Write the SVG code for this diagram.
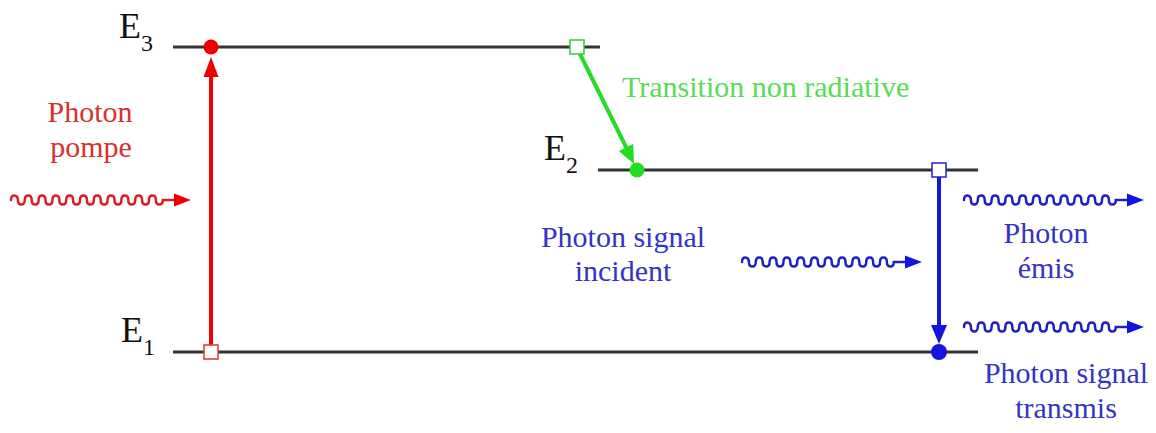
<svg xmlns="http://www.w3.org/2000/svg" width="1156" height="433" viewBox="0 0 1156 433">
<style>
.lvl{stroke:#333;stroke-width:3;fill:none}
.t{font-family:"Liberation Serif","Times New Roman",serif;font-size:30px}
.E{font-family:"Liberation Serif","Times New Roman",serif;font-size:36px;fill:#111}
.sub{font-family:"Liberation Serif","Times New Roman",serif;font-size:24px;fill:#111}
.wave{fill:none;stroke-width:2.5;stroke-linecap:round}
.red{fill:#d83030}
.green{fill:#55dd55}
.blue{fill:#3434c4}
</style>
<defs>
<path id="w" d="M0 0 c0 -6 6.9 -6 6.9 0 s6.9 6 6.9 0 s6.9 -6 6.9 0 s6.9 6 6.9 0 s6.9 -6 6.9 0 s6.9 6 6.9 0 s6.9 -6 6.9 0 s6.9 6 6.9 0 s6.9 -6 6.9 0 s6.9 6 6.9 0 s6.9 -6 6.9 0 s6.9 6 6.9 0 s6.9 -6 6.9 0 s6.9 6 6.9 0 s6.9 -6 6.9 0 s6.9 6 6.9 0 s6.9 -6 6.9 0 s6.9 6 6.9 0 s6.9 -6 6.9 0 s6.9 6 6.9 0 s6.9 -6 6.9 0 s6.9 6 6.9 0 L165 0"/>
<path id="wh" d="M163 -6.5 L180 0 L163 6.5 Z"/>
</defs>

<g id="E3">
<line class="lvl" x1="173" y1="47" x2="600" y2="47"/>
<text class="E" x="119" y="38">E</text><text class="sub" x="141" y="51">3</text>
</g>
<g id="E2">
<line class="lvl" x1="598" y1="170" x2="978" y2="170"/>
<text class="E" x="544" y="160">E</text><text class="sub" x="566" y="173">2</text>
</g>
<g id="E1">
<line class="lvl" x1="173" y1="352" x2="978" y2="352"/>
<text class="E" x="121" y="342">E</text><text class="sub" x="143" y="355">1</text>
</g>

<g id="connectors">
<g id="pump" stroke="#ee0000" fill="#ee0000">
<line x1="211" y1="345" x2="211" y2="74" stroke-width="4"/>
<polygon points="211,57 203.5,77 218.5,77" stroke="none"/>
</g>
<g id="nonrad" stroke="#22dd22" fill="#22dd22">
<line x1="580" y1="54" x2="627" y2="149" stroke-width="4"/>
<polygon points="634,164 633.2,144 618.8,151" stroke="none"/>
</g>
<g id="emission" stroke="#1414dc" fill="#1414dc">
<line x1="939" y1="177" x2="939" y2="328" stroke-width="4"/>
<polygon points="931,325 947,325 939,344" stroke="none"/>
</g>
</g>

<g id="points">
<circle cx="211" cy="47" r="7.5" fill="#ee0000"/>
<rect x="204" y="345" width="14" height="14" fill="#fff" stroke="#dd3333" stroke-width="1.5"/>
<rect x="570" y="40" width="14" height="14" fill="#fff" stroke="#33cc33" stroke-width="1.5"/>
<circle cx="637" cy="170" r="7.5" fill="#22dd22"/>
<rect x="932" y="163" width="14" height="14" fill="#fff" stroke="#2222cc" stroke-width="1.5"/>
<circle cx="939" cy="352" r="8" fill="#1414dc"/>
</g>

<g id="photon-pompe">
<use href="#w" x="11" y="200" class="wave" stroke="#d42020"/>
<use href="#wh" x="11" y="200" fill="#ee0000"/>
<text class="t red" text-anchor="middle" x="90" y="122">Photon</text>
<text class="t red" text-anchor="middle" x="91" y="157">pompe</text>
</g>

<g id="transition-label">
<text class="t green" x="622" y="97">Transition non radiative</text>
</g>

<g id="photon-incident">
<use href="#w" x="742" y="262" class="wave" stroke="#2020c0"/>
<use href="#wh" x="742" y="262" fill="#1414dc"/>
<text class="t blue" text-anchor="middle" x="623" y="247">Photon signal</text>
<text class="t blue" text-anchor="middle" x="623" y="281">incident</text>
</g>

<g id="photon-emis">
<use href="#w" x="964" y="200" class="wave" stroke="#2020c0"/>
<use href="#wh" x="964" y="200" fill="#1414dc"/>
<text class="t blue" text-anchor="middle" x="1046" y="243">Photon</text>
<text class="t blue" text-anchor="middle" x="1046" y="278">émis</text>
</g>

<g id="photon-transmis">
<use href="#w" x="964" y="327" class="wave" stroke="#2020c0"/>
<use href="#wh" x="964" y="327" fill="#1414dc"/>
<text class="t blue" text-anchor="middle" x="1066" y="383">Photon signal</text>
<text class="t blue" text-anchor="middle" x="1066" y="418">transmis</text>
</g>
</svg>
